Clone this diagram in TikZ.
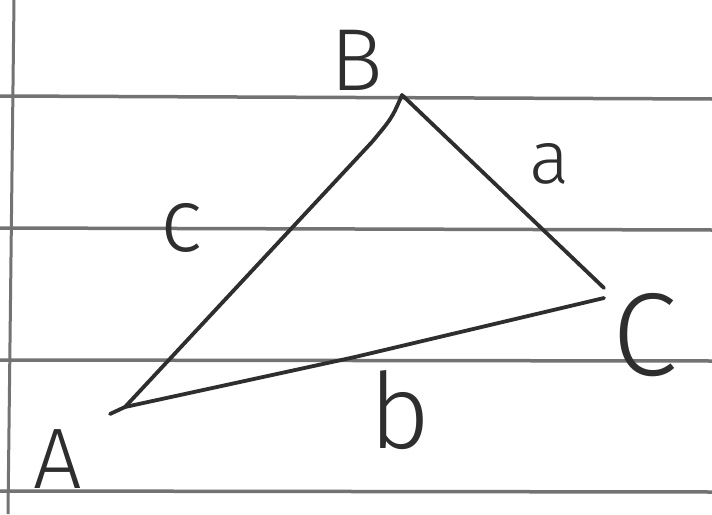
\documentclass[tikz,border=0pt]{standalone}
\usepackage{fontspec}
\setmainfont{Fira Sans}[UprightFont={* Light}]
\begin{document}
\begin{tikzpicture}[x=1pt,y=-1pt,
  rule/.style={draw=black!55,line width=3.5pt},
  side/.style={draw=black!82,line width=3.8pt,line cap=round,line join=round},
  lbl/.style={text=black!82,inner sep=0pt}]
\useasboundingbox[fill=white] (0,0) rectangle (712,514);
% ruled paper
\coordinate (m1) at (14,0); \coordinate (m2) at (8,514);
\draw[rule,line width=3pt] (m1) -- (m2);
\coordinate (r1a) at (0,96); \coordinate (r1b) at (712,99);
\coordinate (r2a) at (0,228); \coordinate (r2b) at (712,230);
\coordinate (r3a) at (0,360); \coordinate (r3b) at (712,361);
\coordinate (r4a) at (0,491); \coordinate (r4b) at (712,492);
\draw[rule] (r1a) -- (r1b);
\draw[rule] (r2a) -- (r2b);
\draw[rule] (r3a) -- (r3b);
\draw[rule] (r4a) -- (r4b);
% triangle
\coordinate (A) at (125,407);
\coordinate (A0) at (110,414);
\coordinate (B) at (402,95);
\coordinate (C) at (604,288);
\coordinate (C2) at (604,298);
\coordinate (p) at (372,142);
\coordinate (q) at (355,357);
\draw[side] (A0) -- (A) -- (p) .. controls (392,118) .. (B) -- (C);
\draw[side] (A) -- (q) -- (C2);
% labels
\node[lbl,font=\fontsize{88}{88}\selectfont] (lB) at (357,60) {B};
\node[lbl,font=\fontsize{75}{75}\selectfont] (la) at (550,164) {a};
\node[lbl,font=\fontsize{90}{90}\selectfont] (lc) at (182,228) {c};
\node[lbl,font=\fontsize{118}{118}\selectfont] (lC) at (645,335) {C};
\node[lbl,font=\fontsize{105}{105}\selectfont] (lb) at (400,410) {b};
\node[lbl,font=\fontsize{86}{86}\selectfont] (lA) at (58,459) {A};
\end{tikzpicture}
\end{document}
